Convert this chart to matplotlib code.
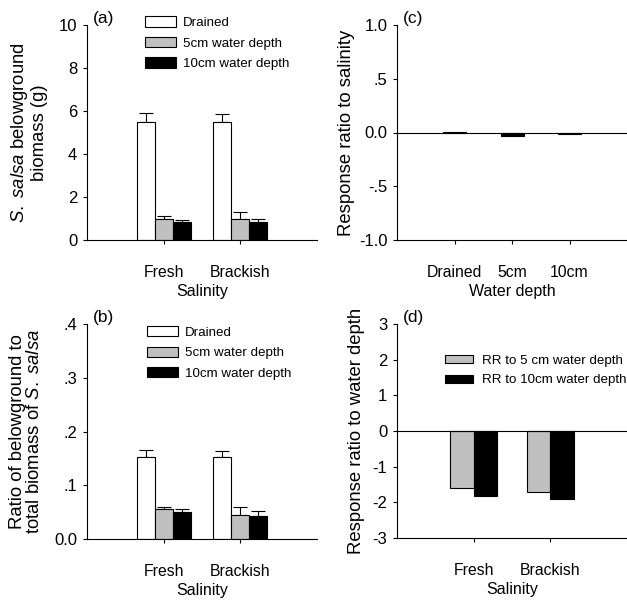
import numpy as np
import matplotlib
matplotlib.use("Agg")
import matplotlib.pyplot as plt

plt.rcParams["font.family"] = ["Liberation Sans", "DejaVu Sans"]
plt.rcParams["mathtext.fontset"] = "custom"
plt.rcParams["mathtext.it"] = "Liberation Sans:italic"
plt.rcParams["mathtext.rm"] = "Liberation Sans"

# data
salinity = ["Fresh", "Brackish"]
depth_labels = ["Drained", "5cm water depth", "10cm water depth"]

biomass = {
    "Drained": [5.47, 5.50],
    "5cm": [0.99, 0.98],
    "10cm": [0.84, 0.82],
}
biomass_err = {
    "Drained": [0.45, 0.34],
    "5cm": [0.14, 0.32],
    "10cm": [0.11, 0.18],
}

ratio = {
    "Drained": [0.152, 0.153],
    "5cm": [0.056, 0.044],
    "10cm": [0.051, 0.043],
}
ratio_err = {
    "Drained": [0.013, 0.011],
    "5cm": [0.004, 0.015],
    "10cm": [0.005, 0.009],
}

rr_depth_cats = ["Drained", "5cm", "10cm"]
rr_salinity = [0.006, -0.028, -0.014]

rr_labels = ["RR to 5 cm water depth", "RR to 10cm water depth"]
rr_5cm = [-1.60, -1.72]
rr_10cm = [-1.82, -1.92]

colors = ["white", "#c0c0c0", "black"]
keys = ["Drained", "5cm", "10cm"]

XTICK = 11.3
YTICK = 12
XLAB = 11.5
YLAB = 13.3
LEG = 9.6
TAG = 12.5

fig = plt.figure(figsize=(6.27, 6.0), dpi=100)
W, H = 627, 600


def box(left, top, right, bottom):
    return [left / W, 1 - bottom / H, (right - left) / W, (bottom - top) / H]


ax_a = fig.add_axes(box(87, 25, 317, 240))
ax_c = fig.add_axes(box(397, 25, 627, 240))
ax_b = fig.add_axes(box(87, 324, 317, 539))
ax_d = fig.add_axes(box(397, 324, 627, 538))


def style(ax):
    for s in ["top", "right"]:
        ax.spines[s].set_visible(False)
    ax.spines["left"].set_linewidth(0.8)
    ax.spines["bottom"].set_linewidth(0.8)
    ax.tick_params(axis="y", direction="out", length=3, width=0.8, pad=4, labelsize=YTICK)
    ax.tick_params(axis="x", direction="out", length=3, width=0.8, pad=15, labelsize=XTICK)


def grouped(ax, vals, errs, ylim, yticks, yticklabels, ylabel, tag):
    x = np.arange(1, 3)
    w = 0.235
    for i, k in enumerate(keys):
        pos = x + (i - 1) * w
        ax.bar(pos, vals[k], w, color=colors[i], edgecolor="black", linewidth=0.8,
               label=depth_labels[i], zorder=2)
        ax.errorbar(pos, vals[k], yerr=[np.zeros(2), errs[k]], fmt="none",
                    ecolor="black", elinewidth=0.8, capsize=5, capthick=0.8, zorder=1)
    ax.set_xlim(0, 3)
    ax.set_ylim(*ylim)
    ax.set_xticks(x)
    ax.set_xticklabels(salinity)
    ax.set_yticks(yticks)
    ax.set_yticklabels(yticklabels)
    ax.set_xlabel("Salinity", fontsize=XLAB, labelpad=3)
    ax.set_ylabel(ylabel, fontsize=YLAB, labelpad=8, linespacing=1.05)
    style(ax)
    ax.text(0.026, 1.065, tag, transform=ax.transAxes, fontsize=TAG, va="top")


grouped(ax_a, biomass, biomass_err, (0, 10), [0, 2, 4, 6, 8, 10],
        ["0", "2", "4", "6", "8", "10"],
        "$\\mathit{S.\\ salsa}$ belowground\nbiomass (g)", "(a)")
ax_a.legend(loc="upper left", bbox_to_anchor=(0.252, 1.04), frameon=False,
            fontsize=LEG, borderpad=0, borderaxespad=0, handlelength=2.33,
            handleheight=0.8, handletextpad=0.5, labelspacing=0.58)

grouped(ax_b, ratio, ratio_err, (0, 0.4), [0, 0.1, 0.2, 0.3, 0.4],
        ["0.0", ".1", ".2", ".3", ".4"],
        "Ratio of belowground to\ntotal biomass of $\\mathit{S.\\ salsa}$", "(b)")
ax_b.legend(loc="upper left", bbox_to_anchor=(0.26, 0.99), frameon=False,
            fontsize=LEG, borderpad=0, borderaxespad=0, handlelength=2.33,
            handleheight=0.8, handletextpad=0.5, labelspacing=0.58)

# (c) response ratio to salinity
xc = np.arange(1, 4)
ax_c.bar(xc, rr_salinity, 0.4, color="black", edgecolor="black", linewidth=0.8)
ax_c.axhline(0, color="black", linewidth=0.8)
ax_c.set_xlim(0, 4)
ax_c.set_ylim(-1, 1)
ax_c.set_xticks(xc)
ax_c.set_xticklabels(rr_depth_cats)
ax_c.set_yticks([-1, -0.5, 0, 0.5, 1])
ax_c.set_yticklabels(["-1.0", "-.5", "0.0", ".5", "1.0"])
ax_c.set_xlabel("Water depth", fontsize=XLAB, labelpad=3)
ax_c.set_ylabel("Response ratio to salinity", fontsize=YLAB, labelpad=3)
style(ax_c)
ax_c.text(0.026, 1.065, "(c)", transform=ax_c.transAxes, fontsize=TAG, va="top")

# (d) response ratio to water depth
xd = np.arange(1, 3)
wd = 0.31
ax_d.bar(xd - wd / 2, rr_5cm, wd, color="#c0c0c0", edgecolor="black", linewidth=0.8,
         label=rr_labels[0])
ax_d.bar(xd + wd / 2, rr_10cm, wd, color="black", edgecolor="black", linewidth=0.8,
         label=rr_labels[1])
ax_d.axhline(0, color="black", linewidth=0.8)
ax_d.set_xlim(0, 3)
ax_d.set_ylim(-3, 3)
ax_d.set_xticks(xd)
ax_d.set_xticklabels(salinity)
ax_d.set_yticks([-3, -2, -1, 0, 1, 2, 3])
ax_d.set_yticklabels(["-3", "-2", "-1", "0", "1", "2", "3"])
ax_d.set_xlabel("Salinity", fontsize=XLAB, labelpad=3)
ax_d.set_ylabel("Response ratio to water depth", fontsize=YLAB, labelpad=5)
style(ax_d)
ax_d.text(0.026, 1.065, "(d)", transform=ax_d.transAxes, fontsize=TAG, va="top")
ax_d.legend(loc="upper left", bbox_to_anchor=(0.21, 0.857), frameon=False,
            fontsize=LEG, borderpad=0, borderaxespad=0, handlelength=2.1,
            handleheight=0.55, handletextpad=0.65, labelspacing=0.58)

fig.savefig("out.png", dpi=100)
